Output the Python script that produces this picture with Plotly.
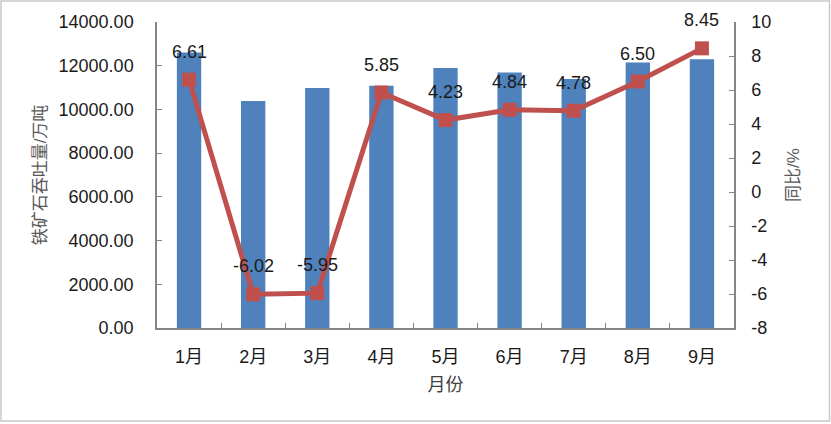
import plotly.graph_objects as go

months = ["1月", "2月", "3月", "4月", "5月", "6月", "7月", "8月", "9月"]
throughput = [12600, 10380, 10980, 11080, 11890, 11690, 11390, 12150, 12300]
yoy = [6.61, -6.02, -5.95, 5.85, 4.23, 4.84, 4.78, 6.50, 8.45]
yoy_labels = ["6.61", "-6.02", "-5.95", "5.85", "4.23", "4.84", "4.78", "6.50", "8.45"]
left_ticks = [0, 2000, 4000, 6000, 8000, 10000, 12000, 14000]
left_ticktext = ["0.00", "2000.00", "4000.00", "6000.00", "8000.00", "10000.00", "12000.00", "14000.00"]
right_ticks = [-8, -6, -4, -2, 0, 2, 4, 6, 8, 10]
right_ticktext = ["-8", "-6", "-4", "-2", "0", "2", "4", "6", "8", "10"]

FONT = "Liberation Sans, Arial, Noto Sans CJK SC"
AXIS_COLOR = "#868686"
FS = 18

fig = go.Figure()
fig.add_trace(go.Bar(
    x=months, y=throughput, marker=dict(color="#4F81BD", line=dict(width=0)),
    yaxis="y", showlegend=False,
))
fig.add_trace(go.Scatter(
    x=months, y=yoy, yaxis="y2", mode="lines+markers",
    line=dict(color="#C0504D", width=5),
    marker=dict(symbol="square", size=14, color="#C0504D"),
    showlegend=False, cliponaxis=False,
))

annotations = [
    dict(x=m, y=v, xref="x", yref="y2", text=t, showarrow=False, yshift=28,
         font=dict(size=FS, color="#1a1a1a", family=FONT))
    for m, v, t in zip(months, yoy, yoy_labels)
]

fig.update_layout(
    width=831, height=424,
    margin=dict(l=157, r=97, t=22, b=96),
    paper_bgcolor="white", plot_bgcolor="white",
    font=dict(family=FONT, size=FS, color="#1a1a1a"),
    bargap=0.62,
    xaxis=dict(
        type="category", range=[-0.5, 8.5], automargin=False,
        showline=True, linecolor=AXIS_COLOR, linewidth=1.5,
        ticks="inside", tickson="boundaries", ticklen=5, tickcolor=AXIS_COLOR,
        ticklabelstandoff=12,
        showgrid=False,
        title=dict(text="月份", font=dict(size=FS, color="#404040"), standoff=12),
        tickfont=dict(size=FS),
    ),
    yaxis=dict(
        range=[0, 14000], tickvals=left_ticks, ticktext=left_ticktext, automargin=False,
        showline=True, linecolor=AXIS_COLOR, linewidth=1.5,
        ticks="inside", ticklen=5, tickcolor=AXIS_COLOR, ticklabelstandoff=18,
        showgrid=False, zeroline=False,
        title=dict(text="铁矿石吞吐量/万吨", font=dict(size=17, color="#595959"), standoff=8),
        tickfont=dict(size=FS),
    ),
    yaxis2=dict(
        range=[-8, 10], tickvals=right_ticks, ticktext=right_ticktext,
        overlaying="y", side="right", anchor="x", automargin=False,
        showline=True, linecolor=AXIS_COLOR, linewidth=1.5,
        ticks="inside", ticklen=5, tickcolor=AXIS_COLOR, ticklabelstandoff=12,
        showgrid=False, zeroline=False,
        title=dict(text="同比/%", font=dict(size=17, color="#595959"), standoff=17),
        tickfont=dict(size=FS),
    ),
    annotations=annotations,
    shapes=[dict(type="rect", xref="paper", yref="paper", x0=-0.2704, x1=1.1655, y0=-0.304, y1=1.0686,
                 line=dict(color="#c8c8c8", width=1.5))],
)

fig.write_html("out.html", config={"displayModeBar": False},
               post_script="document.body.style.margin='0';")
